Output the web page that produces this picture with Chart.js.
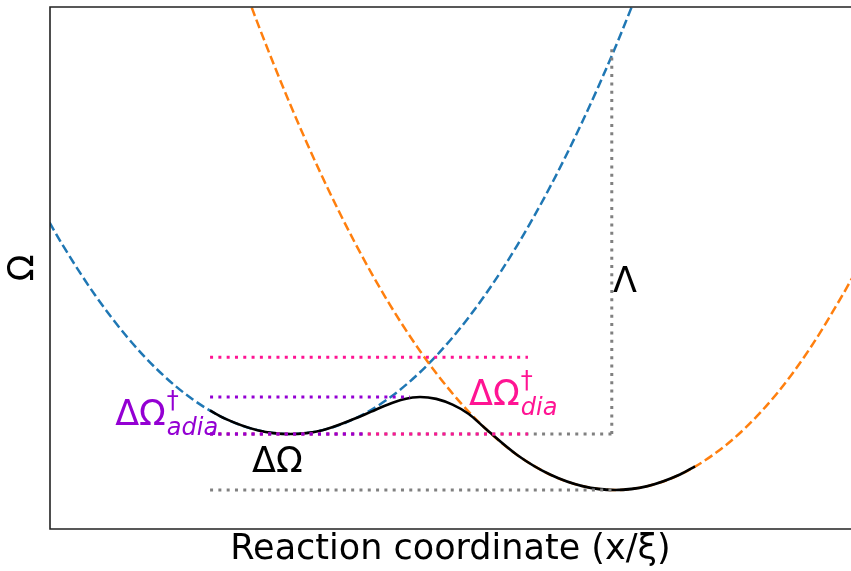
<!DOCTYPE html>
<html>
<head>
<meta charset="utf-8">
<script src="https://cdn.jsdelivr.net/npm/chart.js@4"></script>
<style>
  html, body { margin: 0; padding: 0; background: #fff; overflow: hidden; }
  canvas { display: block; }
</style>
</head>
<body>
<canvas id="marcus" width="851" height="571"></canvas>
<script>
// reaction coordinate values (blue min at 0, orange min at 1), energies in units of Λ
const blueX = [-0.74, -0.7, -0.6, -0.5, -0.4, -0.3, -0.2, -0.1, 0, 0.1, 0.2, 0.3, 0.4, 0.5, 0.6, 0.7, 0.8, 0.9, 1.0, 1.1];
const blueY = [0.548, 0.49, 0.36, 0.25, 0.16, 0.09, 0.04, 0.01, 0, 0.01, 0.04, 0.09, 0.16, 0.25, 0.36, 0.49, 0.64, 0.81, 1.0, 1.21];

const orangeX = [-0.2, -0.1, 0, 0.1, 0.2, 0.3, 0.4, 0.5, 0.6, 0.7, 0.8, 0.9, 1.0, 1.1, 1.2, 1.3, 1.4, 1.5, 1.6, 1.7, 1.74];
const orangeY = [1.295, 1.065, 0.855, 0.665, 0.495, 0.345, 0.215, 0.105, 0.015, -0.055, -0.105, -0.135, -0.145, -0.135, -0.105, -0.055, 0.015, 0.107, 0.222, 0.36, 0.42];

// adiabatic (black) curve
const adiaX = [-0.246, -0.2, -0.1, 0, 0.1, 0.2, 0.25, 0.3, 0.35, 0.4, 0.45, 0.5, 0.55, 0.6, 0.7, 0.8, 0.9, 1.0, 1.1, 1.2, 1.246];
const adiaY = [0.061, 0.04, 0.01, 0, 0.01, 0.04, 0.058, 0.076, 0.090, 0.096, 0.091, 0.076, 0.052, 0.015, -0.055, -0.105, -0.135, -0.145, -0.135, -0.105, -0.084];

// dotted guide lines [x0, x1] at level y
const grayLowX = [-0.246, 1.0],  grayLowY = [-0.145, -0.145];
const grayMidX = [-0.246, 0.99], grayMidY = [0, 0];
const lambdaX = [0.99, 0.99],    lambdaY = [0, 1.0];
const pinkTopX = [-0.246, 0.732], pinkTopY = [0.199, 0.199];
const pinkLowX = [-0.246, 0.732], pinkLowY = [0, 0];
const violetTopX = [-0.246, 0.369], violetTopY = [0.096, 0.096];
const violetLowX = [-0.246, 0.237], violetLowY = [0, 0];

const xRange = [-0.7385, 1.726];
const yRange = [-0.2461, 1.1062];

function pts(xs, ys) {
  return xs.map((v, i) => ({x: v, y: ys[i]}));
}

const FONT = "'DejaVu Sans'";

function dotted(xs, ys, color, order) {
  return {
    data: pts(xs, ys),
    borderColor: color,
    borderWidth: 3,
    borderDash: [3, 5.3],
    pointRadius: 0,
    showLine: true,
    order: order
  };
}

function drawScripted(ctx, px, py, main, sup, sub, color) {
  ctx.fillStyle = color;
  ctx.textAlign = 'left';
  ctx.textBaseline = 'alphabetic';
  ctx.font = '35px ' + FONT;
  ctx.fillText(main, px, py);
  const w = ctx.measureText(main).width;
  ctx.font = '24px ' + FONT;
  ctx.fillText(sup, px + w + 1, py - 17);
  ctx.font = 'italic 24px ' + FONT;
  ctx.fillText(sub, px + w + 1, py + 9.5);
}

const labelPlugin = {
  id: 'labelPlugin',
  afterDraw(chart) {
    const {ctx, chartArea, scales: {x, y}} = chart;
    ctx.save();
    // spines: left, top, bottom
    ctx.strokeStyle = '#222';
    ctx.lineWidth = 1.6;
    ctx.beginPath();
    ctx.moveTo(chartArea.right + 2, chartArea.top);
    ctx.lineTo(chartArea.left, chartArea.top);
    ctx.lineTo(chartArea.left, chartArea.bottom);
    ctx.lineTo(chartArea.right + 2, chartArea.bottom);
    ctx.stroke();

    drawScripted(ctx, x.getPixelForValue(-0.538), y.getPixelForValue(0.023), 'ΔΩ', '†', 'adia', '#9400D3');
    drawScripted(ctx, x.getPixelForValue(0.551), y.getPixelForValue(0.075), 'ΔΩ', '†', 'dia', '#FF1493');

    ctx.fillStyle = '#000';
    ctx.font = '35px ' + FONT;
    ctx.fillText('ΔΩ', x.getPixelForValue(-0.117), y.getPixelForValue(-0.098));
    ctx.fillText('Λ', x.getPixelForValue(0.994), y.getPixelForValue(0.368));
    ctx.restore();
  }
};

const data = {
  datasets: [
    {
      label: 'state 1',
      data: pts(blueX, blueY),
      borderColor: '#1f77b4',
      borderWidth: 2.5,
      borderDash: [9, 4],
      pointRadius: 0,
      showLine: true,
      cubicInterpolationMode: 'monotone',
      order: 10
    },
    {
      label: 'state 2',
      data: pts(orangeX, orangeY),
      borderColor: '#ff7f0e',
      borderWidth: 2.5,
      borderDash: [9, 4],
      pointRadius: 0,
      showLine: true,
      cubicInterpolationMode: 'monotone',
      order: 9
    },
    {
      label: 'adiabatic',
      data: pts(adiaX, adiaY),
      borderColor: '#000',
      borderWidth: 2.6,
      pointRadius: 0,
      showLine: true,
      cubicInterpolationMode: 'monotone',
      order: 8
    },
    dotted(grayLowX, grayLowY, '#808080', 7),
    dotted(grayMidX, grayMidY, '#808080', 7),
    dotted(lambdaX, lambdaY, '#808080', 7),
    dotted(pinkTopX, pinkTopY, '#FF1493', 6),
    dotted(pinkLowX, pinkLowY, '#FF1493', 6),
    dotted(violetTopX, violetTopY, '#9400D3', 5),
    dotted(violetLowX, violetLowY, '#9400D3', 5)
  ]
};

const config = {
  type: 'scatter',
  data: data,
  options: {
    responsive: false,
    animation: false,
    devicePixelRatio: 1,
    layout: { padding: { top: 7, right: 0, left: 0, bottom: 0 } },
    plugins: {
      legend: { display: false },
      tooltip: { enabled: false }
    },
    scales: {
      x: {
        type: 'linear',
        min: xRange[0],
        max: xRange[1],
        ticks: { display: false },
        grid: { display: false, drawTicks: false },
        border: { display: false },
        title: {
          display: true,
          text: 'Reaction coordinate (x/ξ)',
          color: '#000',
          font: { family: FONT, size: 35, lineHeight: 1.2 },
          padding: { top: 0, bottom: 0 }
        }
      },
      y: {
        type: 'linear',
        min: yRange[0],
        max: yRange[1],
        ticks: { display: false },
        grid: { display: false, drawTicks: false },
        border: { display: false },
        title: {
          display: true,
          text: 'Ω',
          color: '#000',
          font: { family: FONT, size: 35, lineHeight: 1.2 },
          padding: { top: 3, bottom: 5 }
        }
      }
    }
  },
  plugins: [labelPlugin]
};

const ctx = document.getElementById('marcus').getContext('2d');
const chart = new Chart(ctx, config);
</script>
</body>
</html>
